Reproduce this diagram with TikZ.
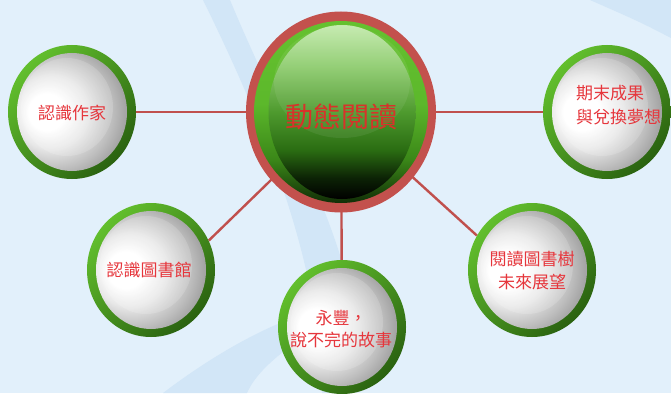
\documentclass[tikz,border=0pt]{standalone}
\usepackage{fontspec}
\newfontfamily\cjk{Noto Sans CJK TC}
\usetikzlibrary{shapes.geometric}
\pgfdeclarelayer{back}
\pgfdeclarelayer{lines}
\pgfsetlayers{back,lines,main}
\definecolor{bgblue}{HTML}{E2F0FB}
\definecolor{bandblue}{HTML}{D2E6F7}
\definecolor{linered}{HTML}{C0504D}
\definecolor{ringred}{HTML}{C3514D}
\definecolor{gtop}{HTML}{62BF2D}
\definecolor{gbot}{HTML}{2A6210}
\definecolor{txtred}{HTML}{E6363C}
\definecolor{ctxt}{HTML}{D8322A}
\definecolor{cg0}{HTML}{000000}
\definecolor{cg1}{HTML}{0C2205}
\definecolor{cg2}{HTML}{2A6C12}
\definecolor{cg3}{HTML}{4E9A2E}
\definecolor{cg4}{HTML}{8CCB6C}
\definecolor{cg5}{HTML}{C3EAAC}
\definecolor{rg0}{HTML}{081A03}
\definecolor{rg1}{HTML}{3A8618}
\definecolor{rg2}{HTML}{5CB82B}
\definecolor{rg3}{HTML}{66C230}
\pgfdeclareradialshading{whiteball}{\pgfpoint{-8bp}{8bp}}{color(0bp)=(white); color(7bp)=(white); color(14bp)=(black!9); color(22bp)=(black!26); color(30bp)=(black!45); color(37bp)=(black!60); color(50bp)=(black!64)}
\pgfdeclareverticalshading{greenbody}{100bp}{color(0bp)=(cg0); color(25bp)=(cg0); color(31bp)=(cg1); color(39bp)=(cg2); color(50bp)=(cg3); color(63bp)=(cg4); color(75bp)=(cg5); color(100bp)=(cg5)}
\pgfdeclareverticalshading{greenring}{100bp}{color(0bp)=(rg0); color(25bp)=(rg0); color(38bp)=(rg1); color(52bp)=(rg2); color(75bp)=(rg3); color(100bp)=(rg3)}
\tikzset{
  ball/.style={ellipse, minimum width=128pt, minimum height=134pt, inner sep=0pt,
    shade, top color=gtop, bottom color=gbot, shading angle=45,
    path picture={
      \shade[shading=whiteball] (path picture bounding box.center) ellipse [x radius=55pt, y radius=59pt];
      \fill[white, opacity=0.16] ([xshift=-5pt,yshift=5pt]path picture bounding box.center) ellipse [x radius=46pt, y radius=49pt];
    }},
  hub/.style={ellipse, minimum width=190pt, minimum height=201pt, inner sep=0pt, fill=ringred,
    path picture={
      \shade[shading=greenring] (path picture bounding box.center) ellipse [x radius=87pt, y radius=91pt];
      \shade[shading=greenbody] ([xshift=1pt]path picture bounding box.center) ellipse [x radius=73.5pt, y radius=87pt];
      \fill[white, opacity=0.07] ([xshift=1pt,yshift=30pt]path picture bounding box.center) ellipse [x radius=68pt, y radius=56pt];
    }},
  balltext/.style={text=txtred, font=\cjk\fontsize{17}{24}\selectfont, align=center, inner sep=0pt},
  hubtext/.style={text=ctxt, font=\cjk\fontsize{28}{32}\selectfont, inner sep=0pt},
  conn/.style={draw=linered, line width=2.4pt},
  band/.style={fill=bandblue}
}
\begin{document}
\begin{tikzpicture}[x=1pt, y=-1pt]
\useasboundingbox (0,0) rectangle (671,393);
\begin{pgfonlayer}{back}
  \fill[bgblue] (0,0) rectangle (671,393);
  \fill[band] (203,0) -- (230,0) .. controls (280,120) and (330,200) .. (352,300) -- (340,393) -- (322,393) .. controls (320,260) and (262,120) .. (203,0) -- cycle;
  \fill[band] (163,393) .. controls (200,365) and (240,340) .. (280,323) -- (292,345) .. controls (272,360) and (255,375) .. (247,393) -- cycle;
  \fill[band] (590,0) -- (671,0) -- (671,38) .. controls (640,22) .. (590,0) -- cycle;
\end{pgfonlayer}

\node[hub] (c) at (341,112) {};
\node[ball] (author) at (72,112) {};
\node[ball] (lib) at (151,270) {};
\node[ball] (story) at (342,327) {};
\node[ball] (tree) at (532,270) {};
\node[ball] (goal) at (607,112) {};

\node[hubtext] (ct) at (341,117) {動態閱讀};
\node[balltext] (t1) at (72,113) {認識作家};
\node[balltext] (t2) at (149,270) {認識圖書館};
\node[balltext, font=\cjk\fontsize{17}{22}\selectfont] (t3) at (341,329) {永豐，\\說不完的故事};
\node[balltext, font=\cjk\fontsize{17}{23}\selectfont] (t4) at (532,271) {閱讀圖書樹\\未來展望};
\node[balltext, align=left, anchor=west] (t5) at (576,105) {期末成果\\與兌換夢想};

\begin{pgfonlayer}{lines}
  \draw[conn] (c.center) -- (author.center);
  \draw[conn] (c.center) -- (goal.center);
  \draw[conn] (c.center) -- (story.center);
  \draw[conn] (c.center) -- (lib.27);
  \draw[conn] (c.center) -- (tree.148);
\end{pgfonlayer}
\end{tikzpicture}
\end{document}
